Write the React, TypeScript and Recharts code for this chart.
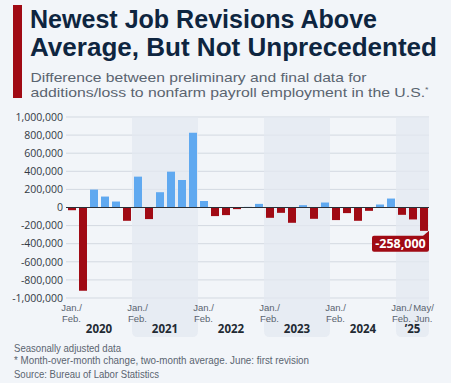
import React from 'react';
import {
  BarChart,
  Bar,
  XAxis,
  YAxis,
  CartesianGrid,
  ReferenceArea,
  ReferenceLine,
  Cell,
} from 'recharts';

// ---------- DATA ----------
const years = ['2020', '2021', '2022', '2023', '2024', '2025'];
const yearLabels = ['2020', '2021', '2022', '2023', '2024', '\u201925'];
const shadedYears = ['2021', '2023', '2025'];
const twoMonthPeriods = ['Jan./Feb.', 'Mar./Apr.', 'May/Jun.', 'Jul./Aug.', 'Sep./Oct.', 'Nov./Dec.'];
// difference between preliminary and final data (jobs), two-month averages
const revisions = [
  -30000, -920000, 198000, 121000, 66000, -147000,
  341000, -128000, 169000, 396000, 304000, 826000,
  72000, -95000, -84000, -18000, 7000, 40000,
  -114000, -59000, -169000, 26000, -125000, 55000,
  -139000, -62000, -147000, -37000, 33000, 99000,
  -81000, -132000, -258000,
];
const yTicks = [-1000000, -800000, -600000, -400000, -200000, 0, 200000, 400000, 600000, 800000, 1000000];

const titleLines = ['Newest Job Revisions Above', 'Average, But Not Unprecedented'];
const subtitleLines = [
  'Difference between preliminary and final data for',
  'additions/loss to nonfarm payroll employment in the U.S.',
];
const footerLines = [
  'Seasonally adjusted data',
  '* Month-over-month change, two-month average. June: first revision',
  'Source: Bureau of Labor Statistics',
];

// ---------- DERIVED TABLES ----------
const categories = years
  .flatMap((y) => twoMonthPeriods.map((p) => `${p} ${y}`))
  .slice(0, revisions.length);
const data = categories.map((c, i) => ({ period: c, value: revisions[i] }));
const yearBands = years.map((y, i) => {
  const inYear = categories.filter((c) => c.endsWith(y));
  return {
    year: y,
    label: yearLabels[i],
    x1: inYear[0],
    x2: inYear[inYear.length - 1],
    shaded: shadedYears.includes(y),
  };
});

// ---------- STYLE ----------
const FONT = '"Open Sans", "Noto Sans", sans-serif';
const TFONT = '"Liberation Sans", Arial, sans-serif';
const BG = '#f2f5f9';
const BAND = '#e3e8f0';
const BLUE = '#60a9f0';
const RED = '#a00a14';
const NAVY = '#0e2540';
const GRAY = '#5a6470';

const fmt = (v: number) => v.toLocaleString('en-US');

const tickLines = (value: string): string[] | null => {
  const idx = categories.indexOf(value);
  const isLast = idx === categories.length - 1;
  if (!value.startsWith('Jan./Feb.') && !isLast) return null;
  const period = value.split(' ')[0];
  const slash = period.indexOf('/');
  return [period.slice(0, slash + 1), period.slice(slash + 1)];
};

const XTick = (props: any) => {
  const { x, y, payload } = props;
  const lines = tickLines(payload.value);
  if (!lines) return null;
  return (
    <g>
      <text x={x} y={y + 13} textAnchor="middle" fontSize={9.5} fill={GRAY} fontFamily={TFONT}>
        {lines[0]}
      </text>
      <text x={x} y={y + 23.8} textAnchor="middle" fontSize={9.5} fill={GRAY} fontFamily={TFONT}>
        {lines[1]}
      </text>
    </g>
  );
};

const YearBand = (props: any) => {
  const { x, y, width, height, label, shaded } = props;
  const bottom = y + height + 39;
  const r = 6;
  const d = `M${x},${y} H${x + width} V${bottom - r} Q${x + width},${bottom} ${x + width - r},${bottom} H${x + r} Q${x},${bottom} ${x},${bottom - r} Z`;
  return (
    <g>
      {shaded && <path d={d} fill={BAND} fillOpacity={0.75} />}
      <text
        x={x + width / 2}
        y={y + height + 35}
        textAnchor="middle"
        fontSize={11.5}
        fontWeight={700}
        fill="#222a33"
        fontFamily={FONT}
      >
        {label}
      </text>
    </g>
  );
};

const Callout = (props: any) => {
  const { x, y, width, height, index, value } = props;
  if (index !== revisions.length - 1) return null;
  const bottom = Math.max(y, y + height);
  const right = x + width + 1;
  const boxW = 57;
  const boxH = 16;
  const top = bottom + 5;
  return (
    <g>
      <rect x={right - boxW} y={top} width={boxW} height={boxH} rx={2} fill={RED} />
      <polygon points={`${right - 7},${top + 1} ${right},${top - 5} ${right},${top + 5}`} fill={RED} />
      <text
        x={right - boxW / 2}
        y={top + 12.5}
        textAnchor="middle"
        fontSize={12.5}
        fontWeight={700}
        fill="#ffffff"
        fontFamily={FONT}
      >
        {fmt(value)}
      </text>
    </g>
  );
};

export default function App() {
  return (
    <div
      style={{
        position: 'absolute',
        left: 0,
        top: 0,
        width: 451,
        height: 383,
        background: BG,
        overflow: 'hidden',
      }}
    >
      <svg
        width={451}
        height={383}
        style={{ position: 'absolute', left: 0, top: 0 }}
        fontFamily={TFONT}
      >
        <rect x={13} y={5} width={9} height={93} fill={RED} />
        <text x={30} y={27.5} fontSize={25} fontWeight={700} fill={NAVY} textLength={347} lengthAdjust="spacingAndGlyphs">
          {titleLines[0]}
        </text>
        <text x={30} y={55.5} fontSize={25} fontWeight={700} fill={NAVY} textLength={407} lengthAdjust="spacingAndGlyphs">
          {titleLines[1]}
        </text>
        <text x={30.5} y={82} fontSize={13.4} fill={GRAY} textLength={336} lengthAdjust="spacingAndGlyphs">
          {subtitleLines[0]}
        </text>
        <text x={30.5} y={97.2} fontSize={13.4} fill={GRAY} textLength={398} lengthAdjust="spacingAndGlyphs">
          {subtitleLines[1]}
          <tspan fontSize={7.5} dy={-5}>*</tspan>
        </text>
        <text x={14} y={352} fontSize={10.5} fill={GRAY} textLength={107} lengthAdjust="spacingAndGlyphs">
          {footerLines[0]}
        </text>
        <text x={14} y={364.2} fontSize={10.5} fill={GRAY} textLength={295} lengthAdjust="spacingAndGlyphs">
          {footerLines[1]}
        </text>
        <text x={14} y={378} fontSize={10.5} fill={GRAY} textLength={145} lengthAdjust="spacingAndGlyphs">
          {footerLines[2]}
        </text>
      </svg>
      <div style={{ position: 'absolute', left: 0, top: 0 }}>
        <BarChart
          width={451}
          height={383}
          data={data}
          margin={{ top: 117, right: 22, bottom: 45, left: 0 }}
          barSize={8}
        >
          {yearBands.map((b) => (
            <ReferenceArea
              key={b.year}
              x1={b.x1}
              x2={b.x2}
              fill="none"
              stroke="none"
              shape={(p: any) => <YearBand {...p} label={b.label} shaded={b.shaded} />}
            />
          ))}
          <CartesianGrid vertical={false} stroke="#d3d9e1" strokeWidth={1} />
          <XAxis
            dataKey="period"
            interval={0}
            tick={<XTick />}
            tickLine={false}
            axisLine={false}
            tickSize={0}
            tickMargin={0}
            height={40}
          />
          <YAxis
            domain={[-1000000, 1000000]}
            ticks={yTicks}
            tickFormatter={fmt}
            tickLine={false}
            axisLine={false}
            tickSize={0}
            tickMargin={3}
            width={66}
            tick={{ fontSize: 10.5, fill: '#333a44', fontFamily: FONT }}
            interval={0}
          />
          <Bar dataKey="value" isAnimationActive={false} label={<Callout />}>
            {data.map((d) => (
              <Cell key={d.period} fill={d.value >= 0 ? BLUE : RED} />
            ))}
          </Bar>
          <ReferenceLine y={0} stroke="#2a3038" strokeWidth={1} />
        </BarChart>
      </div>
    </div>
  );
}
